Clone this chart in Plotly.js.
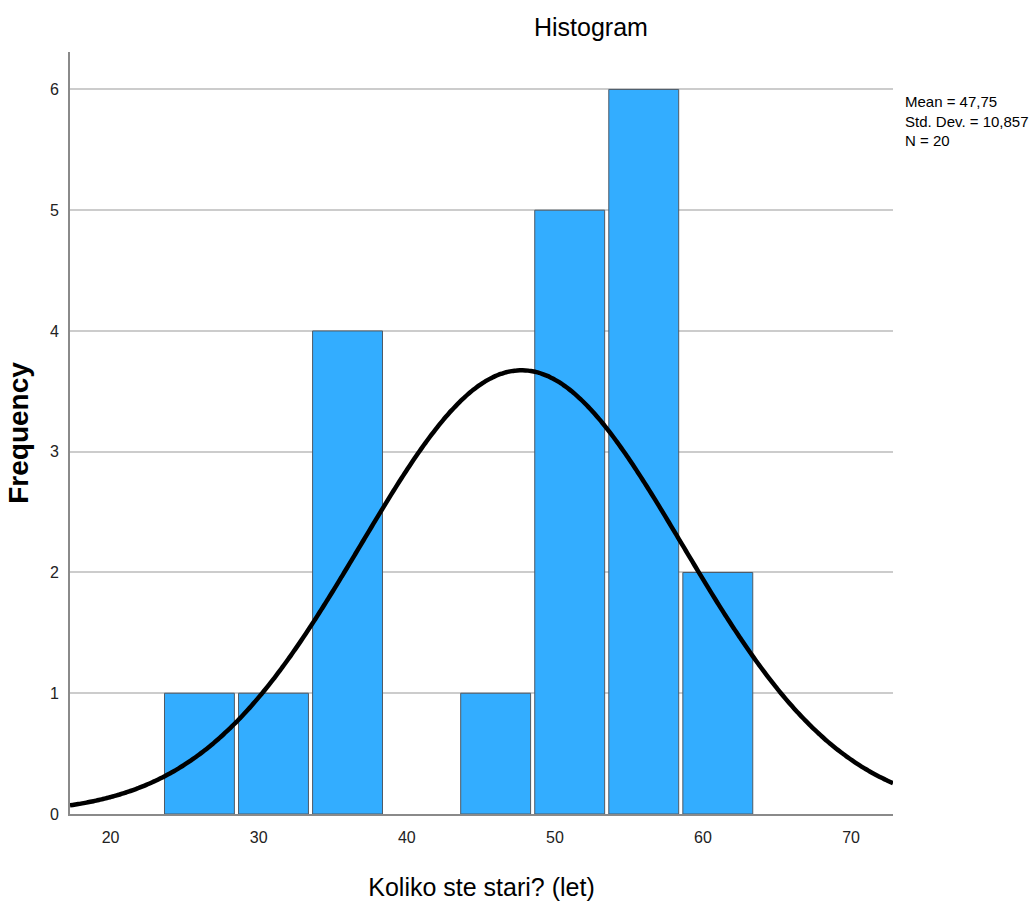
<!DOCTYPE html>
<html>
<head>
<meta charset="utf-8">
<script src="https://cdn.plot.ly/plotly-3.0.1.min.js"></script>
<style>
  html, body { margin: 0; padding: 0; background: #ffffff; }
  #chart { width: 1032px; height: 909px; }
</style>
</head>
<body>
<div id="chart"></div>
<script>
// Age histogram: bin centres (years) and counts per bin
const binCenters = [26, 31, 36, 41, 46, 51, 56, 61];
const frequencies = [1, 1, 4, 0, 1, 5, 6, 2];
const binWidth = 5;

// Descriptive statistics shown beside the plot
const meanAge = 47.75;
const stdDevAge = 10.857;
const sampleSize = 20;

// Axis ticks
const xTickValues = [20, 30, 40, 50, 60, 70];
const xTickLabels = ['20', '30', '40', '50', '60', '70'];
const yTickValues = [0, 1, 2, 3, 4, 5, 6];
const yTickLabels = ['0', '1', '2', '3', '4', '5', '6'];

const xRange = [17.26, 72.83];
const yRange = [0, 6.31];

const FONT = '"Liberation Sans", Arial, Helvetica, sans-serif';

// Normal curve fitted with the stated mean / std. dev., scaled to counts per bin
const curveX = [];
const curveY = [];
const steps = 300;
for (let i = 0; i <= steps; i++) {
  const x = xRange[0] + (xRange[1] - xRange[0]) * i / steps;
  const z = (x - meanAge) / stdDevAge;
  curveX.push(x);
  curveY.push(sampleSize * binWidth / (stdDevAge * Math.sqrt(2 * Math.PI)) * Math.exp(-0.5 * z * z));
}

const fmt = (v, d) => v.toFixed(d).replace('.', ',');
const statsText = 'Mean = ' + fmt(meanAge, 2) + '<br>Std. Dev. = ' + fmt(stdDevAge, 3) + '<br>N = ' + sampleSize;

const traces = [
  {
    type: 'bar',
    x: binCenters,
    y: frequencies,
    width: binWidth * 0.944,
    marker: {
      color: '#33adff',
      line: { color: '#4e5a66', width: frequencies.map(v => (v > 0 ? 1 : 0)) }
    },
    hoverinfo: 'skip',
    showlegend: false
  },
  {
    type: 'scatter',
    mode: 'lines',
    x: curveX,
    y: curveY,
    line: { color: '#000000', width: 4.5, shape: 'spline' },
    hoverinfo: 'skip',
    showlegend: false
  }
];

const layout = {
  width: 1032,
  height: 909,
  margin: { l: 70, r: 139, t: 52, b: 95 },
  paper_bgcolor: '#ffffff',
  plot_bgcolor: '#ffffff',
  font: { family: FONT, color: '#000000', size: 15 },
  title: {
    text: 'Histogram',
    font: { family: FONT, size: 25, color: '#000000' },
    x: 0.633, xref: 'paper', xanchor: 'center',
    y: 1 - 27 / 909, yref: 'container', yanchor: 'middle'
  },
  bargap: 0,
  xaxis: {
    range: xRange,
    tickmode: 'array',
    tickvals: xTickValues,
    ticktext: xTickLabels,
    ticks: '',
    ticklabelstandoff: 8,
    tickfont: { family: FONT, size: 16, color: '#222222' },
    showgrid: false,
    zeroline: false,
    showline: true,
    linecolor: '#8a8a8a',
    linewidth: 2,
    fixedrange: true,
    title: {
      text: 'Koliko ste stari? (let)',
      font: { family: FONT, size: 25, color: '#000000' },
      standoff: 33
    }
  },
  yaxis: {
    range: yRange,
    tickmode: 'array',
    tickvals: yTickValues,
    ticktext: yTickLabels,
    ticks: '',
    ticklabelstandoff: 6,
    tickfont: { family: FONT, size: 16, color: '#222222' },
    showgrid: true,
    gridcolor: '#cccccc',
    gridwidth: 2,
    zeroline: false,
    showline: true,
    linecolor: '#8a8a8a',
    linewidth: 2,
    fixedrange: true,
    title: {
      text: '<b>Frequency</b>',
      font: { family: FONT, size: 28, color: '#000000' },
      standoff: 13
    }
  },
  annotations: [
    {
      text: statsText,
      xref: 'paper', yref: 'paper',
      x: 1.012, y: 0.949,
      xanchor: 'left', yanchor: 'top',
      align: 'left',
      showarrow: false,
      font: { family: FONT, size: 15, color: '#000000' }
    }
  ]
};

Plotly.newPlot('chart', traces, layout, { displayModeBar: false, staticPlot: true });
</script>
</body>
</html>
